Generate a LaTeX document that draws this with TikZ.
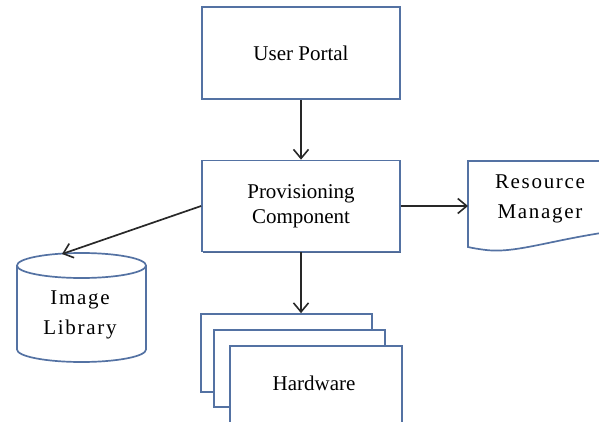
\documentclass[tikz,border=0pt]{standalone}
\usepackage{fontspec}
\setmainfont{Liberation Serif}
\usetikzlibrary{arrows.meta,shadows}
\definecolor{edgeblue}{RGB}{84,114,163}
\definecolor{shadeblue}{RGB}{60,88,135}
\definecolor{wire}{RGB}{40,40,40}
\tikzset{
  x=1pt, y=-1pt,
  every node/.style={font=\fontsize{21}{25}\selectfont, inner sep=0pt},
  block/.style={draw=edgeblue, line width=1.7pt, fill=white,
    drop shadow={shadow xshift=1.2pt, shadow yshift=-1.2pt, fill=shadeblue, opacity=0.9}},
  flow/.style={draw=wire, line width=2.4pt, -{Straight Barb[length=9pt,width=15pt,line width=1.6pt]}},
  thinflow/.style={draw=wire, line width=1.7pt, -{Straight Barb[length=9pt,width=15pt,line width=1.6pt]}},
  spaced/.style={font=\fontsize{21}{30}\selectfont\addfontfeature{LetterSpace=8}},
}
\begin{document}
\begin{tikzpicture}
\useasboundingbox (0,0) rectangle (599,422);

% top and middle blocks
\node[block, minimum width=198pt, minimum height=92pt] (portal) at (301,53) {User Portal};
\node[block, minimum width=198pt, minimum height=91pt, align=center] (prov) at (301,206) {Provisioning\\Component};

% stacked hardware blocks
\node[block, minimum width=171pt, minimum height=78pt] (hwa) at (286.5,353) {};
\node[block, minimum width=171pt, minimum height=77pt] (hwb) at (299.5,368.5) {};
\node[block, minimum width=172pt, minimum height=84pt] (hwc) at (316,388) {};
\node (hwtext) at (314,383) {Hardware};

% document shape for the resource manager
\filldraw[draw=edgeblue, line width=1.7pt, fill=white]
  (468,161) -- (640,161) -- (640,228)
  .. controls (560,236) and (520,254) .. (486,250)
  .. controls (478,249) and (472,248) .. (468,247) -- cycle;
\node[spaced, align=center] (rm) at (540,199) {Resource\\Manager};

% cylinder for the image library
\filldraw[draw=edgeblue, line width=1.7pt, fill=white]
  (17,265.5) -- (17,349.5) arc[start angle=180, end angle=360, x radius=64.5pt, y radius=12.5pt]
  -- (146,265.5) arc[start angle=0, end angle=180, x radius=64.5pt, y radius=12.5pt] -- cycle;
\draw[edgeblue, line width=1.7pt] (17,265.5) arc[start angle=180, end angle=360, x radius=64.5pt, y radius=12.5pt];
\node[spaced, align=center] (lib) at (80,315) {Image\\Library};
\coordinate (libtop) at (62,254);
\coordinate (rmleft) at (468,206);

% connectors
\draw[flow] (portal.south) -- (prov.north);
\draw[flow] (prov.south) -- (prov.south |- hwa.north);
\draw[thinflow] (prov.west) -- (libtop);
\draw[thinflow] (prov.east) -- (rmleft);
\end{tikzpicture}
\end{document}
